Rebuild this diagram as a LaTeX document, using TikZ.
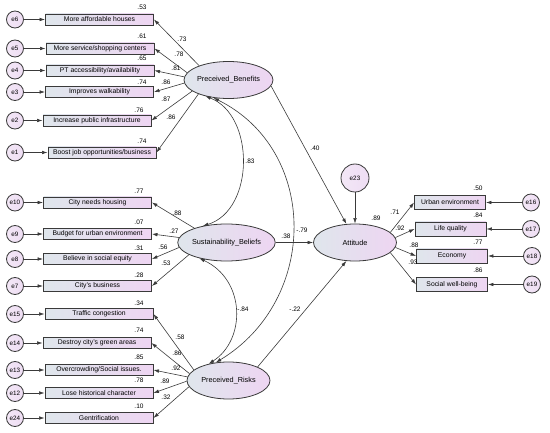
\documentclass[tikz,border=0pt]{standalone}
\usepackage{fontspec}
\setmainfont{Liberation Sans}
\usetikzlibrary{shapes.geometric,arrows,arrows.meta}

\definecolor{boxleft}{HTML}{DFE6EC}
\definecolor{boxright}{HTML}{EED5F2}
\definecolor{errfill}{HTML}{EEDDF3}
\definecolor{edge}{HTML}{3A3A3A}

\tikzset{
  obs/.style={draw=edge, line width=0.9pt, left color=boxleft, right color=boxright,
    minimum width=108pt, minimum height=11pt, inner xsep=1pt, inner ysep=0pt,
    font=\fontsize{6.8}{8}\selectfont},
  obsr/.style={obs, minimum width=71pt, minimum height=14pt},
  lat/.style={ellipse, draw=edge, line width=0.8pt, left color=boxleft, right color=boxright,
    minimum width=83pt, minimum height=37pt, inner sep=0pt, font=\fontsize{7.3}{9}\selectfont},
  err/.style={circle, draw=edge, line width=0.8pt, left color=errfill!70!white, right color=errfill,
    minimum size=17pt, inner sep=0pt, font=\fontsize{6.3}{7}\selectfont},
  coef/.style={font=\fontsize{6.5}{7}\selectfont, inner sep=0pt},
  arr/.style={->, draw=edge, line width=0.6pt},
  cov/.style={<->, draw=edge, line width=0.6pt}
}

\begin{document}
\begin{tikzpicture}[x=1pt, y=-1pt, >={Latex[length=5.5pt,width=3.6pt]}]
  \useasboundingbox (0,0) rectangle (550,433);
  % latent variables
  \node[lat] (ben) at (228.5,80)  {Preceived\_Benefits};
  \node[lat] (sus) at (226.5,242.5) {Sustainability\_Beliefs};
  \node[lat] (rsk) at (228.5,380.5) {Preceived\_Risks};
  \node[lat] (att) at (355,242.5) {Attitude};
  \node[err, minimum size=28pt] (e23) at (355,178) {e23};

  % benefits block
  \node[err] (e6) at (15,19.5)  {e6};
  \node[err] (e5) at (15,48.5)  {e5};
  \node[err] (e4) at (15,70.5)  {e4};
  \node[err] (e3) at (15,92)    {e3};
  \node[err] (e2) at (15,120.5) {e2};
  \node[err] (e1) at (15,152.5) {e1};
  \node[obs] (x6) at (99.5,19.5)  {More affordable houses};
  \node[obs] (x5) at (100,48.5)   {More service/shopping centers};
  \node[obs] (x4) at (100,70.5)   {PT accessibility/availability};
  \node[obs] (x3) at (99.5,92)    {Improves walkability};
  \node[obs] (x2) at (97,120.5)   {Increase public infrastructure};
  \node[obs] (x1) at (102,152.5)  {Boost job opportunities/business};

  % beliefs block
  \node[err] (e10) at (15,202.5) {e10};
  \node[err] (e9)  at (15,234)   {e9};
  \node[err] (e8)  at (15,259)   {e8};
  \node[err] (e7)  at (15,286)   {e7};
  \node[obs] (x10) at (97.5,202.5) {City needs housing};
  \node[obs] (x9)  at (97.5,234)   {Budget for urban environment};
  \node[obs] (x8)  at (97.5,259)   {Believe in social equity};
  \node[obs] (x7)  at (97.5,286)   {City's business};

  % risks block
  \node[err] (e15) at (15,314) {e15};
  \node[err] (e14) at (15,343) {e14};
  \node[err] (e13) at (15,370) {e13};
  \node[err] (e12) at (15,393) {e12};
  \node[err] (e24) at (15,418) {e24};
  \node[obs] (x15) at (99,314) {Traffic congestion};
  \node[obs] (x14) at (97,343) {Destroy city's green areas};
  \node[obs] (x13) at (99,370) {Overcrowding/Social issues.};
  \node[obs] (x12) at (99,393) {Lose historical character};
  \node[obs] (x24) at (99,418) {Gentrification};

  % attitude block
  \node[obsr] (y1) at (450,202.5) {Urban environment};
  \node[obsr] (y2) at (450.5,229) {Life quality};
  \node[obsr] (y3) at (452,256)   {Economy};
  \node[obsr] (y4) at (452,284.5) {Social well-being};
  \node[err] (e16) at (531,202.5) {e16};
  \node[err] (e17) at (531,229)   {e17};
  \node[err] (e18) at (532,256)   {e18};
  \node[err] (e19) at (532,284.5) {e19};

  % error terms to indicators
  \draw[arr] (e6) -- (x6);
  \draw[arr] (e5) -- (x5);
  \draw[arr] (e4) -- (x4);
  \draw[arr] (e3) -- (x3);
  \draw[arr] (e2) -- (x2);
  \draw[arr] (e1) -- (x1);
  \draw[arr] (e10) -- (x10);
  \draw[arr] (e9) -- (x9);
  \draw[arr] (e8) -- (x8);
  \draw[arr] (e7) -- (x7);
  \draw[arr] (e15) -- (x15);
  \draw[arr] (e14) -- (x14);
  \draw[arr] (e13) -- (x13);
  \draw[arr] (e12) -- (x12);
  \draw[arr] (e24) -- (x24);
  \draw[arr] (e16) -- (y1);
  \draw[arr] (e17) -- (y2);
  \draw[arr] (e18) -- (y3);
  \draw[arr] (e19) -- (y4);
  \draw[arr] (e23) -- (att);

  % loadings
  \draw[arr] (ben.154) -- (x6.east);
  \draw[arr] (ben.170) -- (x5.east);
  \draw[arr] (ben.176) -- (x4.east);
  \draw[arr] (ben.184) -- (x3.east);
  \draw[arr] (ben.197) -- (x2.east);
  \draw[arr] (ben.205) -- (x1.east);
  \draw[arr] (sus.156) -- (x10.east);
  \draw[arr] (sus.174) -- (x9.east);
  \draw[arr] (sus.186) -- (x8.east);
  \draw[arr] (sus.198) -- (x7.east);
  \draw[arr] (rsk.163) -- (x15.east);
  \draw[arr] (rsk.170) -- (x14.east);
  \draw[arr] (rsk.175) -- (x13.east);
  \draw[arr] (rsk.181) -- (x12.east);
  \draw[arr] (rsk.189) -- (x24.east);
  \draw[arr] (att.16) -- (y1.west);
  \draw[arr] (att.7) -- (y2.west);
  \draw[arr] (att.-7) -- (y3.west);
  \draw[arr] (att.-16) -- (y4.west);

  % structural paths
  \draw[arr] (ben.-8) -- (att.115);
  \draw[arr] (sus) -- (att);
  \draw[arr] (rsk.25) -- (att.245);

  % covariances
  \draw[cov] (ben.215) .. controls (255,115) and (255,210) .. (sus.145);
  \draw[cov] (ben.230) .. controls (319,150) and (319,300) .. (rsk.125);
  \draw[cov] (sus.210) .. controls (246,280) and (246,340) .. (rsk.140);

  % estimates
  \node[coef] (r6) at (142,7)   {.53};
  \node[coef] (r5) at (142,36)  {.61};
  \node[coef] (r4) at (142,58)  {.65};
  \node[coef] (r3) at (142,82)  {.74};
  \node[coef] (r2) at (139,110) {.76};
  \node[coef] (r1) at (142,141) {.74};
  \node[coef] (l6) at (182,39)  {.73};
  \node[coef] (l5) at (179,54)  {.78};
  \node[coef] (l4) at (176,68)  {.81};
  \node[coef] (l3) at (166,82)  {.86};
  \node[coef] (l2) at (166,99)  {.87};
  \node[coef] (l1) at (171,117) {.86};
  \node[coef] (r10) at (139,191) {.77};
  \node[coef] (r9)  at (139,222) {.07};
  \node[coef] (r8)  at (139,248) {.31};
  \node[coef] (r7)  at (139,275) {.28};
  \node[coef] (l10) at (177,213) {.88};
  \node[coef] (l9)  at (174,231) {.27};
  \node[coef] (l8)  at (163,247) {.56};
  \node[coef] (l7)  at (166,263) {.53};
  \node[coef] (r15) at (139,303) {.34};
  \node[coef] (r14) at (139,330) {.74};
  \node[coef] (r13) at (139,357) {.85};
  \node[coef] (r12) at (139,380) {.78};
  \node[coef] (r24) at (139,406) {.10};
  \node[coef] (l15) at (180,337) {.58};
  \node[coef] (l14) at (177,353) {.86};
  \node[coef] (l13) at (176,368) {.92};
  \node[coef] (l12) at (165,381) {.89};
  \node[coef] (l24) at (166,397) {.32};
  \node[coef] (cbs) at (250,161) {.83};
  \node[coef] (cbr) at (302,230) {-.79};
  \node[coef] (csr) at (243,309) {-.84};
  \node[coef] (pb)  at (315,148) {.40};
  \node[coef] (ps)  at (286,236) {.38};
  \node[coef] (pr)  at (295,309) {-.22};
  \node[coef] (ratt) at (376,218) {.89};
  \node[coef] (m1) at (395,212) {.71};
  \node[coef] (m2) at (400,228) {.92};
  \node[coef] (m3) at (414,245) {.88};
  \node[coef] (m4) at (413,262) {.93};
  \node[coef] (ry1) at (478,188) {.50};
  \node[coef] (ry2) at (478,215) {.84};
  \node[coef] (ry3) at (478,242) {.77};
  \node[coef] (ry4) at (478,270) {.86};
\end{tikzpicture}
\end{document}
